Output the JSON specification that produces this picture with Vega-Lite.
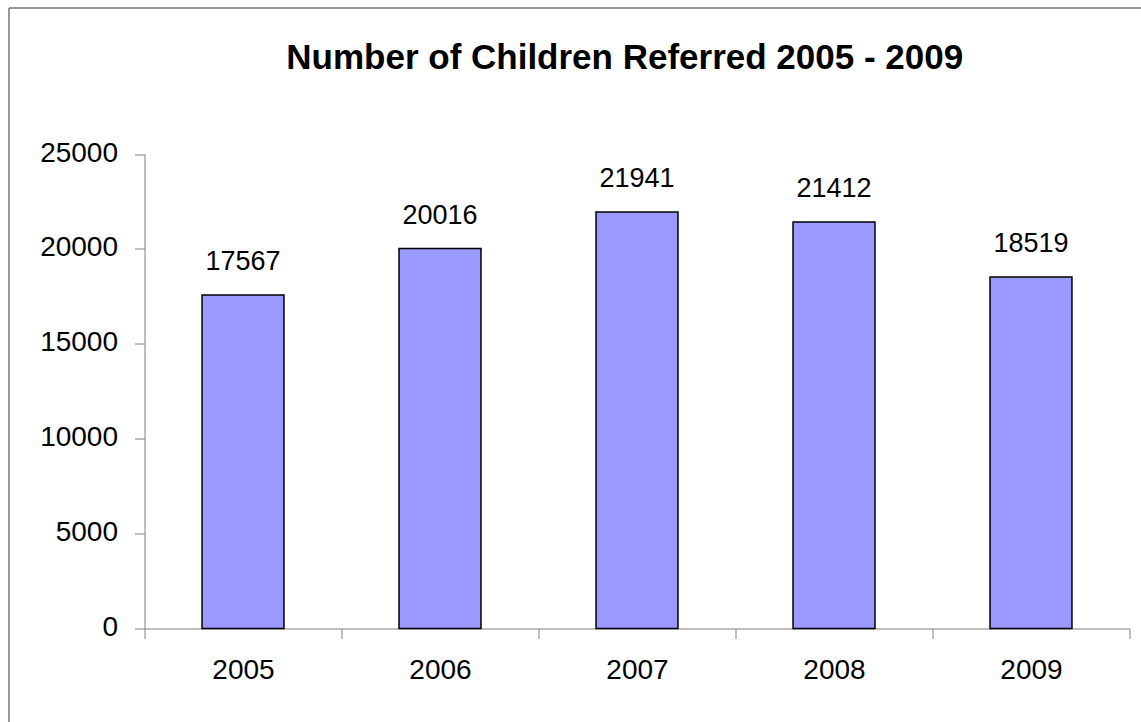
{
  "$schema": "https://vega.github.io/schema/vega-lite/v6.json",
  "autosize": {"type": "none"},
  "padding": {"left": 8.5, "top": 7.5, "right": -2, "bottom": -2},
  "width": 1134.5,
  "height": 716.5,
  "background": "white",
  "config": {
    "view": {"stroke": "#333333", "strokeWidth": 1},
    "font": "Liberation Sans"
  },
  "title": {
    "text": "Number of Children Referred 2005 - 2009",
    "font": "Liberation Sans",
    "fontSize": 35,
    "fontWeight": "bold",
    "color": "black",
    "anchor": "middle",
    "baseline": "alphabetic",
    "offset": -96.5,
    "dx": 49
  },
  "data": {
    "values": [
      {"year": "2005", "children": 17567},
      {"year": "2006", "children": 20016},
      {"year": "2007", "children": 21941},
      {"year": "2008", "children": 21412},
      {"year": "2009", "children": 18519}
    ]
  },
  "encoding": {
    "x": {
      "field": "year",
      "type": "nominal",
      "sort": null,
      "scale": {"range": [136, 1121], "paddingInner": 0, "paddingOuter": 0},
      "axis": {
        "title": null,
        "offset": -95.5,
        "labelAngle": 0,
        "labelFont": "Liberation Sans",
        "labelFontSize": 28,
        "labelColor": "black",
        "labelPadding": 18,
        "tickBand": "extent",
        "tickSize": 10,
        "tickColor": "#808080",
        "domainColor": "#808080",
        "tickWidth": 1,
        "domainWidth": 1,
        "grid": false
      }
    }
  },
  "layer": [
    {
      "mark": {"type": "bar", "fill": "#9999FF", "stroke": "black", "strokeWidth": 1.5, "width": {"band": 0.416}},
      "encoding": {
        "y": {
          "field": "children",
          "type": "quantitative",
          "scale": {"domain": [0, 25000], "range": [621, 146.5], "nice": false, "zero": true},
          "axis": {
            "title": null,
            "offset": -136,
            "values": [0, 5000, 10000, 15000, 20000, 25000],
            "format": "d",
            "labelFont": "Liberation Sans",
            "labelFontSize": 28,
            "labelColor": "black",
            "labelPadding": 17,
            "labelBaseline": "alphabetic",
            "labelOffset": 7,
            "tickSize": 10,
            "tickColor": "#808080",
            "domainColor": "#808080",
            "tickWidth": 1,
            "domainWidth": 1,
            "grid": false
          }
        }
      }
    },
    {
      "mark": {"type": "text", "font": "Liberation Sans", "fontSize": 27, "color": "black", "baseline": "alphabetic", "dy": -25},
      "encoding": {
        "y": {"field": "children", "type": "quantitative"},
        "text": {"field": "children", "type": "quantitative", "format": "d"}
      }
    }
  ]
}
